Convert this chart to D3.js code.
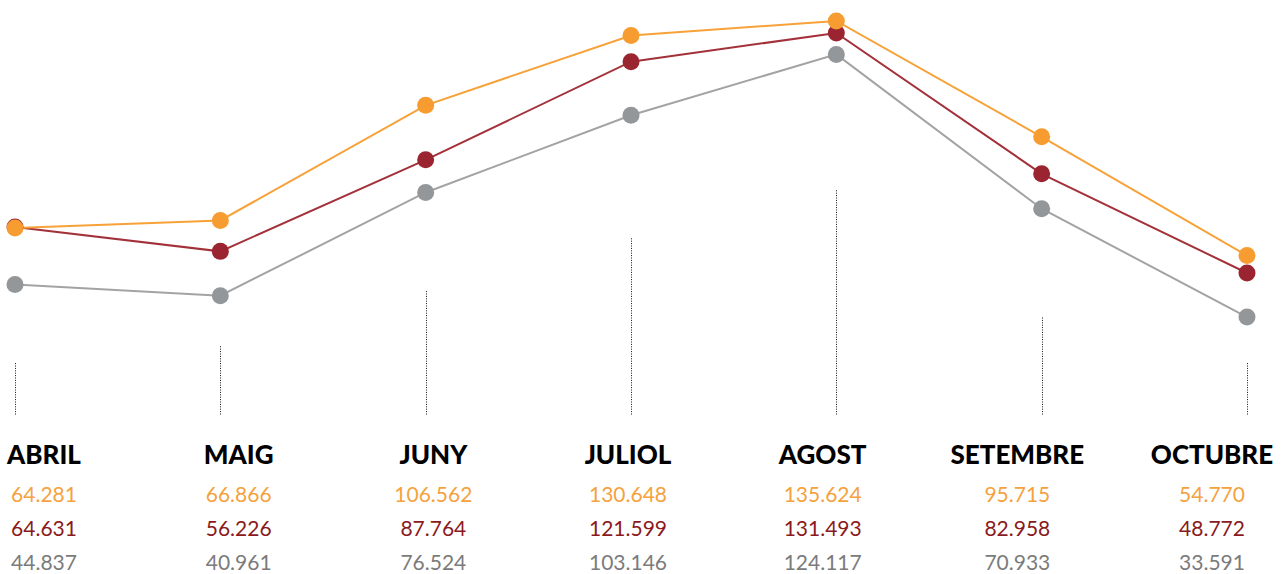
<!DOCTYPE html>
<html>
<head>
<meta charset="utf-8">
<script src="https://cdn.jsdelivr.net/npm/d3@7"></script>
<style>
  body { margin: 0; background: #fff; }
  svg { display: block; }
</style>
</head>
<body>
<svg width="1287" height="574"></svg>
<script>
// month labels and the three series
var months = ['ABRIL', 'MAIG', 'JUNY', 'JULIOL', 'AGOST', 'SETEMBRE', 'OCTUBRE'];
var orangeValues = [64.281, 66.866, 106.562, 130.648, 135.624, 95.715, 54.770];
var redValues = [64.631, 56.226, 87.764, 121.599, 131.493, 82.958, 48.772];
var greyValues = [44.837, 40.961, 76.524, 103.146, 124.117, 70.933, 33.591];
// heights of the dotted drop lines (estimated)
var dropValues = [18.1, 23.6, 42.6, 60.9, 77.4, 33.7, 18.1];

var width = 1287;
var height = 574;

var svg = d3.select('svg');

var xScale = d3.scalePoint()
  .domain(months)
  .range([15, 1247]);

// labels sit on their own evenly spaced band
var labelScale = d3.scalePoint()
  .domain(months)
  .range([44, 1212]);

var yScale = d3.scaleLinear()
  .domain([0, 135.624])
  .range([414.5, 21]);

var series = [
  {values: greyValues, line: '#a3a3a3', dot: '#939799', text: '#7b7b7b', y: 570},
  {values: redValues, line: '#a3313a', dot: '#9a2530', text: '#8a1a20', y: 536},
  {values: orangeValues, line: '#f7a238', dot: '#f79c30', text: '#f5a23e', y: 502}
];

// dotted drop lines
svg.selectAll('line.drop')
  .data(months)
  .enter()
  .append('line')
  .attr('class', 'drop')
  .attr('x1', d => Math.round(xScale(d)) + 0.5)
  .attr('x2', d => Math.round(xScale(d)) + 0.5)
  .attr('y1', yScale(0))
  .attr('y2', (d, i) => yScale(dropValues[i]))
  .attr('stroke', '#111')
  .attr('stroke-width', 1)
  .attr('stroke-dasharray', '1,1.4');

var line = d3.line()
  .x((d, i) => xScale(months[i]))
  .y(d => yScale(d));

series.forEach(s => {
  svg.append('path')
    .datum(s.values)
    .attr('d', line)
    .attr('fill', 'none')
    .attr('stroke', s.line)
    .attr('stroke-width', 2);
});

series.forEach(s => {
  svg.selectAll(null)
    .data(s.values)
    .enter()
    .append('circle')
    .attr('cx', (d, i) => xScale(months[i]))
    .attr('cy', d => yScale(d))
    .attr('r', 8.5)
    .attr('fill', s.dot);
});

// month labels
svg.selectAll('text.month')
  .data(months)
  .enter()
  .append('text')
  .attr('class', 'month')
  .attr('x', d => labelScale(d))
  .attr('y', 464)
  .attr('text-anchor', 'middle')
  .attr('font-family', 'Lato, sans-serif')
  .attr('font-weight', 900)
  .attr('font-size', 26)
  .attr('fill', '#000')
  .text(d => d);

// value labels
var fmt = v => v.toFixed(3);
series.forEach(s => {
  svg.selectAll(null)
    .data(s.values)
    .enter()
    .append('text')
    .attr('x', (d, i) => labelScale(months[i]))
    .attr('y', s.y)
    .attr('text-anchor', 'middle')
    .attr('font-family', 'Lato, sans-serif')
    .attr('font-weight', 400)
    .attr('font-size', 21)
    .attr('fill', s.text)
    .text(d => fmt(d));
});
</script>
</body>
</html>
